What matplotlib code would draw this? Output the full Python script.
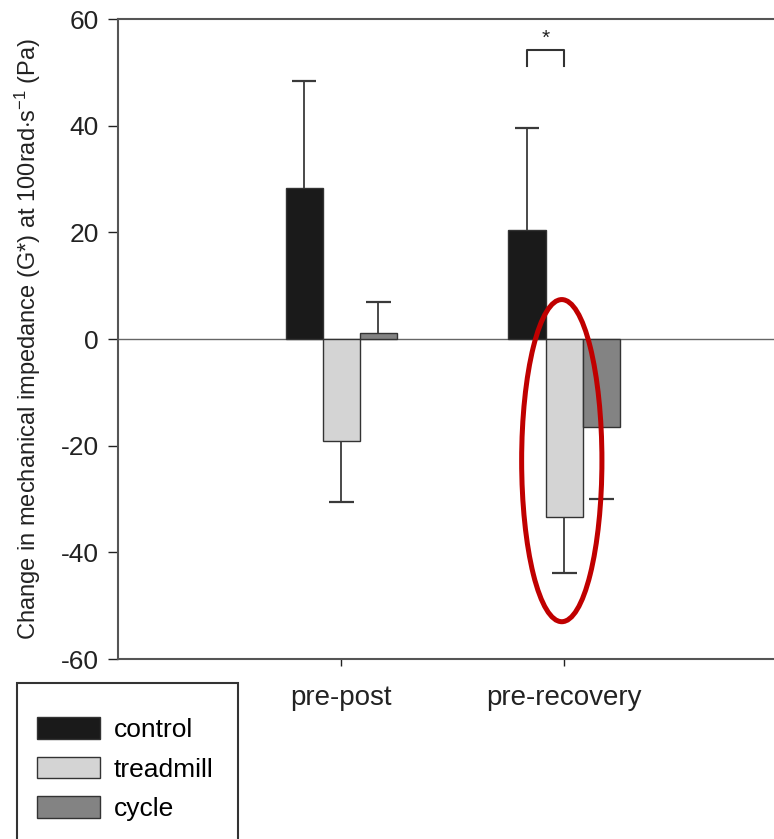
import numpy as np
import matplotlib
matplotlib.use("Agg")
import matplotlib.pyplot as plt
from matplotlib.patches import Ellipse, Rectangle

plt.rcParams["font.family"] = ["Liberation Sans", "DejaVu Sans"]
plt.rcParams["mathtext.fontset"] = "custom"
plt.rcParams["mathtext.rm"] = "Liberation Sans"
plt.rcParams["mathtext.it"] = "Liberation Sans:italic"

# === Data ===
comparisons = ["pre-post", "pre-recovery"]
groups = ["control", "treadmill", "cycle"]
control = [28.3, 20.4]
treadmill = [-19.2, -33.4]
cycle = [1.2, -16.4]
control_err = [20.0, 19.1]
treadmill_err = [11.3, 10.5]
cycle_err = [5.8, 13.6]
yticks = [60, 40, 20, 0, -20, -40, -60]

colors = ["#1a1a1a", "#d4d4d4", "#838383"]
width = 0.166
cap = 0.056

fig = plt.figure(figsize=(7.74, 8.39), dpi=100)
ax = fig.add_axes([0.1525, 0.2145, 0.8643, 0.7628])

x = np.arange(len(comparisons))
series = [control, treadmill, cycle]
errs = [control_err, treadmill_err, cycle_err]
for i, (vals, err, c, name) in enumerate(zip(series, errs, colors, groups)):
    vals = np.array(vals)
    err = np.array(err)
    pos = x + (i - 1) * width
    ax.bar(pos, vals, width, color=c, edgecolor="#333333", linewidth=1.0,
           label=name, zorder=2)
    # one-sided error bars, pointing away from zero
    ends = vals + np.sign(vals) * err
    ax.vlines(pos, vals, ends, color="#3a3a3a", lw=1.3, zorder=3)
    ax.hlines(ends, pos - cap, pos + cap, color="#3a3a3a", lw=1.6, zorder=3)

ax.axhline(0, color="#666666", linewidth=1.0, zorder=1)

# significance bracket between control and treadmill at recovery
xa, xb = x[1] - width, x[1]
ax.plot([xa, xa, xb, xb], [51.2, 54.2, 54.2, 51.2], color="#333333", lw=1.5)
ax.text((xa + xb) / 2, 54.6, "*", ha="center", va="bottom", fontsize=15,
        color="#222222")

ax.add_patch(Ellipse((0.99, -22.8), 0.36, 60.4, fill=False,
                     edgecolor="#c00000", linewidth=3.6, zorder=4,
                     clip_on=False))

ax.set_xlim(-1, 2)
ax.set_ylim(-60, 60)
ax.set_yticks(yticks)
ax.set_yticklabels([str(v) for v in yticks])
ax.set_xticks(x)
ax.set_xticklabels(comparisons)
ax.tick_params(axis="y", direction="out", length=7, width=1.0,
               labelsize=19, colors="#222222", pad=7)
ax.tick_params(axis="x", direction="out", length=5, width=1.0,
               labelsize=20, colors="#222222", pad=14)
ax.spines["right"].set_visible(False)
for s in ["left", "top", "bottom"]:
    ax.spines[s].set_color("#555555")
    ax.spines[s].set_linewidth(1.5)

ax.set_ylabel(r"Change in mechanical impedance (G*) at 100rad$\cdot$s$^{\mathrm{-1}}$ (Pa)",
              fontsize=17, color="#222222")
ax.yaxis.set_label_coords(-0.112, 0.5)

# legend box runs off the bottom edge of the figure
W, H = 774, 839
fig.patches.append(Rectangle((17 / W, -20 / H), (238 - 17) / W, (H - 683 + 20) / H,
                             transform=fig.transFigure, fill=False,
                             edgecolor="#333333", linewidth=1.5))
fig.legend(loc="upper left", bbox_to_anchor=(37 / W, 1 - 717 / H),
           frameon=False, fontsize=19, handlelength=2.4, handleheight=0.9,
           handletextpad=0.5, labelspacing=0.55, borderpad=0, borderaxespad=0)

plt.savefig("out.png", dpi=100)
